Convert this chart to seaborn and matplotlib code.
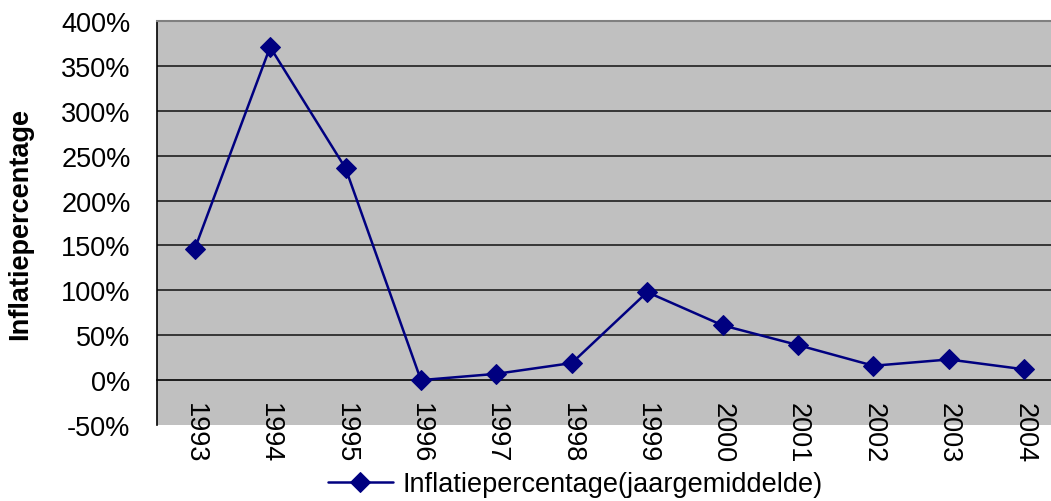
import matplotlib
matplotlib.use("Agg")
import matplotlib.pyplot as plt
from matplotlib.ticker import FixedLocator
import seaborn as sns
import pandas as pd

years = ["1993", "1994", "1995", "1996", "1997", "1998", "1999", "2000", "2001", "2002", "2003", "2004"]
inflation = [146, 371, 236, 0, 7, 19, 98, 61, 39, 16, 23, 12]
y_ticks = [-50, 0, 50, 100, 150, 200, 250, 300, 350, 400]
series_name = "Inflatiepercentage(jaargemiddelde)"
y_label = "Inflatiepercentage"

sns.set_style("white")
plt.rcParams["font.family"] = ["Liberation Sans", "DejaVu Sans"]
plt.rcParams["text.color"] = "black"

df = pd.DataFrame({"Jaar": years, "Inflatie": inflation})

fig = plt.figure(figsize=(10.51, 5.02), dpi=100)
ax = fig.add_axes([157 / 1051, 76 / 502, 905 / 1051, 404 / 502])
ax.set_facecolor("#C0C0C0")

for v in y_ticks[2:]:
    ax.axhline(v, color="#1e1e1e", lw=1.2, zorder=1)

navy = "#000080"
sns.lineplot(data=df, x="Jaar", y="Inflatie", ax=ax, color=navy, lw=1.8,
             marker="D", markersize=10, markeredgecolor=navy, label=series_name,
             zorder=3)

ax.set_xlim(-0.5, len(years) - 0.5)
ax.set_ylim(-50, 400)
ax.set_yticks(y_ticks)
ax.set_yticklabels([f"{v}%" for v in y_ticks])
ax.tick_params(axis="y", direction="out", length=8, width=1.2, color="black",
               pad=11, labelsize=19.5, labelcolor="black")

# x axis crosses at 0
ax.spines["bottom"].set_position(("data", 0))
ax.spines["bottom"].set_color("black")
ax.spines["bottom"].set_linewidth(1.2)
ax.set_xticks(range(len(years)))
ax.set_xticklabels(years, rotation=-90, va="top", ha="center")
ax.tick_params(axis="x", which="major", length=0, pad=16, labelsize=19.5, labelcolor="black")
ax.xaxis.set_minor_locator(FixedLocator([i + 0.5 for i in range(-1, len(years))]))
ax.tick_params(axis="x", which="minor", direction="out", length=8, width=1.2, color="black")

ax.spines["left"].set_color("black")
ax.spines["left"].set_linewidth(1.2)
ax.spines["top"].set_color("#808080")
ax.spines["top"].set_linewidth(1.5)
ax.spines["right"].set_visible(False)

ax.set_xlabel("")
ax.set_ylabel(y_label, fontsize=19.5, fontweight="bold", color="black")
ax.yaxis.set_label_coords(-0.137, 0.5)

ax.legend(loc="center", bbox_to_anchor=(575 / 1051, 1 - 485 / 502),
          bbox_transform=fig.transFigure, frameon=False, fontsize=19.5,
          handlelength=2.4, handletextpad=0.35, labelcolor="black")

fig.savefig("out.png", dpi=100)
